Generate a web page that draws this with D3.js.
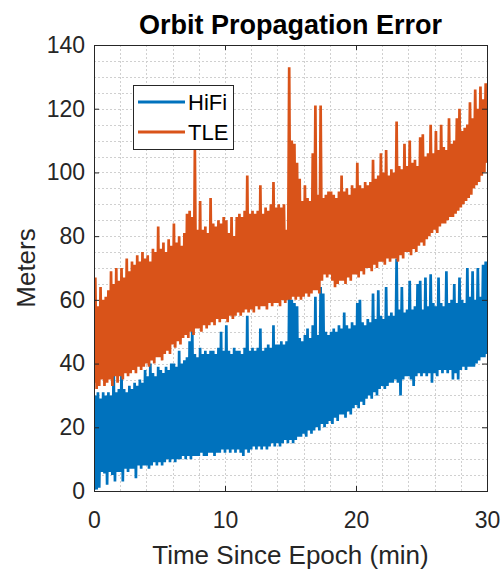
<!DOCTYPE html>
<html>
<head>
<meta charset="utf-8">
<script src="https://cdn.jsdelivr.net/npm/d3@7"></script>
<style>
  html, body { margin: 0; padding: 0; background: #fff; }
  svg { display: block; }
  text { font-family: "Liberation Sans", Arial, Helvetica, sans-serif; }
</style>
</head>
<body>
<svg id="chart" width="501" height="571"></svg>
<script>
// Position error (m) sampled every 0.1 min over a 30 min propagation.
// Samples alternate between the low and high side of the oscillation.
const sampleStep = 0.1;

const seriesNames = ["HiFi", "TLE"];
const seriesColors = ["#0072BD", "#D95319"];

const hifiError = [
  0.3,30, 0.5,31, 1,29, 6,31, 5.5,30,
  2,31, 6,30, 5,39, 3,31, 6,32,
  6,38, 3,32, 7,31, 6,33, 7,32,
  7,34, 4,33, 8,35, 7,34, 8,38,
  8,36, 7,40, 8,37, 9,36, 8,39,
  9,38, 8,37, 9,39, 10,38, 9,40,
  10,40, 9,39, 10,44, 10,40, 11,41,
  10,42, 11,47, 10,51, 11,43, 11,42,
  11,45, 12,43, 11,44, 11,43, 12,44,
  12,44, 11,43, 12,45, 12,50, 13,44,
  12,52, 13,44, 12,43, 13,45, 12,44,
  13,44, 12,43, 11,45, 13,55, 12,44,
  13,45, 14,44, 13,45, 14,51, 13,44,
  14,45, 13,46, 14,45, 15,52, 14,46,
  15,46, 14,47, 15,46, 16,47, 15,61,
  16,60, 15,59, 16,58, 17,48, 17,47,
  18,49, 17,51, 19,48, 18,52, 19,61,
  20,49, 19,64, 21,62, 20,50, 21,49,
  22,50, 21,51, 23,50, 22,52, 24,51,
  24,56, 23,52, 25,51, 24,53, 26,52,
  27,59, 26,60, 28,53, 27,52, 29,54,
  30,53, 29,62, 31,54, 30,63, 32,55,
  33,54, 32,64, 33,55, 34,56, 34,55,
  35,73, 34,57, 30,64, 35,56, 36,57,
  36,66, 35,57, 33,58, 36,65, 37,66,
  36,57, 37,67, 36,58, 37,68, 34,59,
  37,58, 36,67, 38,59, 37,58, 38,69,
  37,59, 38,60, 35,65, 37,59, 35,67,
  38,60, 39,59, 38,70, 39,61, 39,69,
  39,60, 40,70, 41,61, 42,71, 42,72,
  43
];

const tleError = [
  34,67, 32,58, 33,64, 35,60, 33,61,
  34,63, 35,69, 33,65, 36,70, 34,66,
  36,70, 35,67, 37,73, 36,69, 37,72,
  38,71, 37,74, 39,72, 38,75, 39,73,
  40,74, 39,72, 41,76, 40,75, 42,83,
  42,76, 41,78, 43,75, 44,79, 43,77,
  46,84, 45,78, 47,80, 46,77, 48,81,
  49,87, 48,88, 50,86, 49,107, 51,82,
  51,91, 50,82, 52,83, 51,81, 52,92,
  53,84, 52,83, 54,85, 53,84, 54,86,
  54,85, 53,81, 55,86, 54,80, 55,86,
  56,87, 55,86, 56,88, 57,99, 56,87,
  57,88, 56,87, 58,88, 57,96, 58,87,
  58,89, 57,88, 59,90, 58,97, 59,89,
  59,90, 58,89, 60,90, 59,82, 60,133,
  60,110, 61,109, 60,103, 61,98, 60,91,
  61,96, 62,92, 61,91, 62,106, 63,121,
  63,93, 62,121, 66,92, 68,93, 67,94,
  68,94, 66,93, 64,92, 65,94, 66,99,
  66,94, 65,95, 67,93, 66,96, 68,95,
  68,103, 67,96, 69,95, 68,97, 70,96,
  70,97, 69,104, 71,98, 70,99, 72,106,
  72,100, 71,107, 73,99, 72,101, 73,100,
  73,116, 72,102, 74,101, 73,109, 75,102,
  75,110, 74,103, 76,104, 75,102, 77,111,
  78,112, 77,105, 79,106, 80,115, 81,106,
  82,113, 81,107, 83,115, 84,108, 84,107,
  85,117, 86,109, 86,110, 87,117, 88,120,
  89,113, 90,114, 91,115, 92,122, 93,117,
  95,126, 96,120, 97,127, 99,123, 100,128,
  103
];

const xTicks = [0, 10, 20, 30];
const yTicks = [0, 20, 40, 60, 80, 100, 120, 140];
const xMinorStep = 2;
const yMinorStep = 5;

const titleText = "Orbit Propagation Error";
const xLabelText = "Time Since Epoch (min)";
const yLabelText = "Meters";

// ---- layout ----
const plot = { left: 94, right: 487, top: 45, bottom: 491 };
const axisColor = "#262626";

const svg = d3.select("#chart");

const x = d3.scaleLinear().domain([0, 30]).range([plot.left, plot.right]);
const y = d3.scaleLinear().domain([0, 140]).range([plot.bottom, plot.top]);

svg.append("defs").append("clipPath").attr("id", "plot-clip")
  .append("rect")
  .attr("x", plot.left).attr("y", plot.top)
  .attr("width", plot.right - plot.left).attr("height", plot.bottom - plot.top);

// ---- grid (major + minor, dotted) ----
const grid = svg.append("g").attr("class", "grid")
  .attr("stroke", "#d0d0d0").attr("stroke-width", 1)
  .attr("stroke-dasharray", "2,2").attr("shape-rendering", "crispEdges");

const xGrid = d3.range(xMinorStep, 30, xMinorStep);
const yGrid = d3.range(yMinorStep, 140, yMinorStep);

grid.selectAll("line.vx").data(xGrid).join("line")
  .attr("class", "vx")
  .attr("x1", d => Math.round(x(d)) + 0.5).attr("x2", d => Math.round(x(d)) + 0.5)
  .attr("y1", plot.top).attr("y2", plot.bottom);

grid.selectAll("line.hy").data(yGrid).join("line")
  .attr("class", "hy")
  .attr("y1", d => Math.round(y(d)) + 0.5).attr("y2", d => Math.round(y(d)) + 0.5)
  .attr("x1", plot.left).attr("x2", plot.right);

// ---- data lines ----
const toPoints = values => values.map((v, i) => ({ t: i * sampleStep, v }));
const line = d3.line().x(d => x(d.t)).y(d => y(d.v));

const series = [hifiError, tleError];
const lines = svg.append("g").attr("clip-path", "url(#plot-clip)");
series.forEach((vals, k) => {
  lines.append("path")
    .datum(toPoints(vals))
    .attr("fill", "none")
    .attr("stroke", seriesColors[k])
    .attr("stroke-width", 2.7)
    .attr("stroke-linejoin", "bevel")
    .attr("d", line);
});

// ---- axes ----
function styleAxis(g) {
  g.select(".domain").remove();
  g.selectAll(".tick line").attr("stroke", axisColor);
  g.selectAll(".tick text").attr("fill", axisColor).attr("font-size", 23);
}

svg.append("g")
  .attr("transform", `translate(0,${plot.bottom})`)
  .call(d3.axisBottom(x).tickValues(xTicks).tickSizeInner(-5).tickSizeOuter(0).tickPadding(21))
  .call(styleAxis);

svg.append("g")
  .attr("transform", `translate(0,${plot.top})`)
  .call(d3.axisTop(x).tickValues(xTicks).tickSizeInner(-5).tickSizeOuter(0).tickFormat(""))
  .call(styleAxis);

svg.append("g")
  .attr("transform", `translate(${plot.left},0)`)
  .call(d3.axisLeft(y).tickValues(yTicks).tickSizeInner(-5).tickSizeOuter(0).tickPadding(9))
  .call(styleAxis);

svg.append("g")
  .attr("transform", `translate(${plot.right},0)`)
  .call(d3.axisRight(y).tickValues(yTicks).tickSizeInner(-5).tickSizeOuter(0).tickFormat(""))
  .call(styleAxis);

// box around the axes
svg.append("rect")
  .attr("x", plot.left + 0.5).attr("y", plot.top + 0.5)
  .attr("width", plot.right - plot.left).attr("height", plot.bottom - plot.top)
  .attr("fill", "none").attr("stroke", axisColor).attr("stroke-width", 1);

// ---- labels ----
svg.append("text")
  .attr("x", (plot.left + plot.right) / 2).attr("y", 34)
  .attr("text-anchor", "middle").attr("font-size", 27).attr("font-weight", "bold")
  .attr("fill", "#000").text(titleText);

svg.append("text")
  .attr("x", (plot.left + plot.right) / 2).attr("y", 564)
  .attr("text-anchor", "middle").attr("font-size", 26)
  .attr("fill", axisColor).text(xLabelText);

svg.append("text")
  .attr("transform", `translate(35,${(plot.top + plot.bottom) / 2}) rotate(-90)`)
  .attr("text-anchor", "middle").attr("font-size", 26)
  .attr("fill", axisColor).text(yLabelText);

// ---- legend ----
const legend = svg.append("g").attr("transform", "translate(133,85)");
legend.append("rect")
  .attr("x", 0.5).attr("y", 0.5).attr("width", 100).attr("height", 64)
  .attr("fill", "#fff").attr("stroke", axisColor).attr("stroke-width", 1);

seriesNames.forEach((name, k) => {
  const cy = 17 + k * 30;
  legend.append("line")
    .attr("x1", 5).attr("x2", 52).attr("y1", cy).attr("y2", cy)
    .attr("stroke", seriesColors[k]).attr("stroke-width", 3);
  legend.append("text")
    .attr("x", 55).attr("y", cy).attr("dy", "0.35em")
    .attr("font-size", 22).attr("fill", "#000").text(name);
});
</script>
</body>
</html>
